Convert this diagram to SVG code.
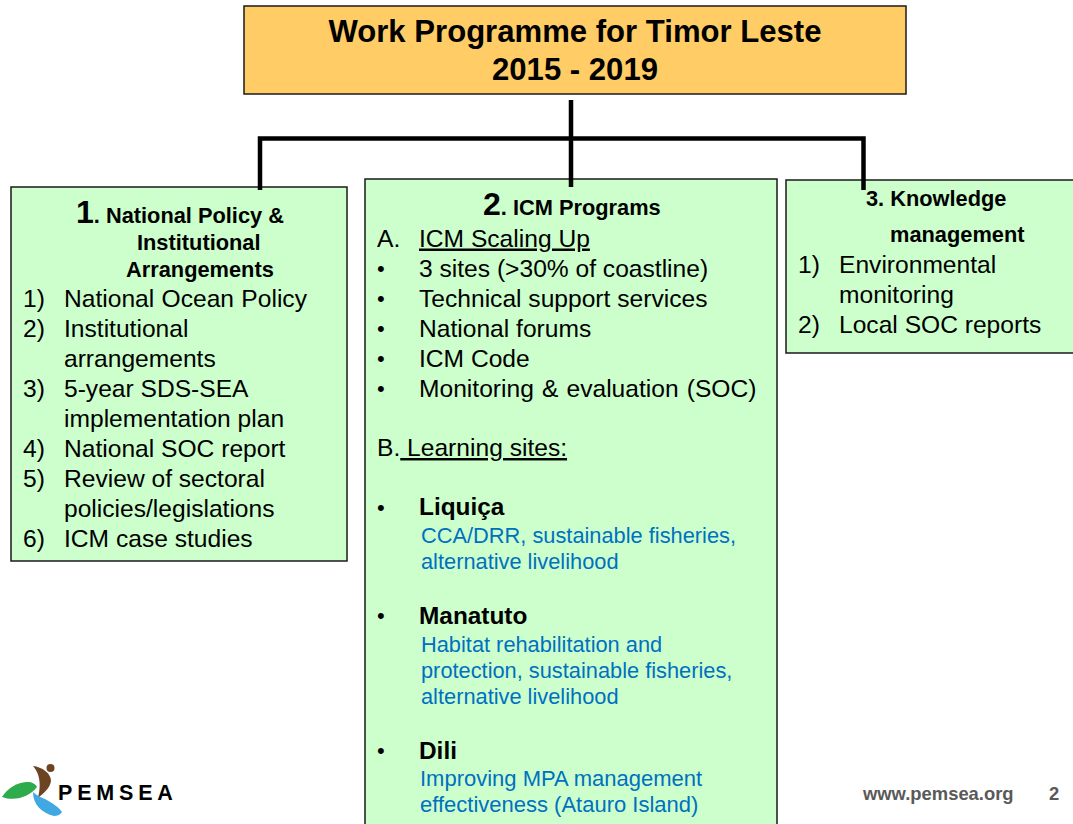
<svg xmlns="http://www.w3.org/2000/svg" width="1073" height="824" viewBox="0 0 1073 824">
<style>
text{font-family:"Liberation Sans",Arial,sans-serif;fill:#000}
.box{fill:#ccffcc;stroke:#1a1a1a;stroke-width:1.5}
.t{font-size:24.600px}
.d{font-size:22px}
.h{font-size:21.800px;font-weight:700}
.n{font-size:32px;font-weight:700}
.bl{font-size:24.400px;font-weight:700}
.c{fill:#0070c0;font-size:21.800px}
.conn{fill:none;stroke:#000;stroke-width:4.500}
.title{font-size:31.100px;font-weight:700;text-anchor:middle}
.foot{font-size:18.400px;font-weight:700;fill:#595959}
</style>
<rect width="1073" height="824" fill="#fff"/>
<g id="node-title"><rect x="244" y="6" width="662" height="88" fill="#ffcc66" stroke="#1a1a1a" stroke-width="1.5"/>
<text class="title" x="575" y="42">Work Programme for Timor Leste</text>
<text class="title" x="575" y="80">2015 - 2019</text></g>
<g id="node-1"><rect class="box" x="11" y="187" width="336" height="374"/>
<text x="76" y="223"><tspan class="n">1</tspan><tspan class="h">. National Policy &amp;</tspan></text>
<text class="h" x="137" y="250">Institutional</text>
<text class="h" x="126" y="277">Arrangements</text>
<text class="t" x="23" y="306.500">1)</text><text class="t" x="64" y="306.500" word-spacing="0.500">National Ocean Policy</text>
<text class="t" x="23" y="336.500">2)</text><text class="t" x="64" y="336.500">Institutional</text>
<text class="t" x="64" y="366.500">arrangements</text>
<text class="t" x="23" y="396.500">3)</text><text class="t" x="64" y="396.500">5-year SDS-SEA</text>
<text class="t" x="64" y="426.500">implementation plan</text>
<text class="t" x="23" y="456.500">4)</text><text class="t" x="64" y="456.500">National SOC report</text>
<text class="t" x="23" y="486.500">5)</text><text class="t" x="64" y="486.500">Review of sectoral</text>
<text class="t" x="64" y="516.500">policies/legislations</text>
<text class="t" x="23" y="546.500">6)</text><text class="t" x="64" y="546.500">ICM case studies</text></g>
<g id="node-2"><path class="box" d="M365 826V179H777V826"/>
<text x="483" y="215"><tspan class="n">2</tspan><tspan class="h">. ICM Programs</tspan></text>
<text class="t" x="377" y="246.500">A.</text><text class="t" x="419" y="246.500" text-decoration="underline">ICM Scaling Up</text>
<text class="d" x="377" y="276">•</text><text class="t" x="419" y="276.500">3 sites (&gt;30% of coastline)</text>
<text class="d" x="377" y="306">•</text><text class="t" x="419" y="306.500">Technical support services</text>
<text class="d" x="377" y="336">•</text><text class="t" x="419" y="336.500">National forums</text>
<text class="d" x="377" y="366">•</text><text class="t" x="419" y="366.500">ICM Code</text>
<text class="d" x="377" y="396">•</text><text class="t" x="419" y="396.500" word-spacing="1.300">Monitoring &amp; evaluation (SOC)</text>
<text class="t" x="377" y="456">B.<tspan text-decoration="underline"> Learning sites:</tspan></text>
<text class="d" x="377" y="515">•</text><text class="bl" x="419" y="515">Liquiça</text>
<text class="c" x="421" y="543">CCA/DRR, sustainable fisheries,</text>
<text class="c" x="421" y="569">alternative livelihood</text>
<text class="d" x="377" y="623">•</text><text class="bl" x="419" y="624">Manatuto</text>
<text class="c" x="421" y="652">Habitat rehabilitation and</text>
<text class="c" x="421" y="678">protection, sustainable fisheries,</text>
<text class="c" x="421" y="704">alternative livelihood</text>
<text class="d" x="377" y="758">•</text><text class="bl" x="419" y="759">Dili</text>
<text class="c" x="420" y="786" style="font-size:22px">Improving MPA management</text>
<text class="c" x="420" y="812" style="font-size:22px">effectiveness (Atauro Island)</text></g>
<g id="node-3"><path class="box" d="M1075 180H786V353H1075"/>
<text class="h" x="866" y="206">3. Knowledge</text>
<text class="h" x="890" y="242">management</text>
<text class="t" x="798" y="272.500">1)</text><text class="t" x="839" y="272.500">Environmental</text>
<text class="t" x="839" y="302.500">monitoring</text>
<text class="t" x="798" y="332.500">2)</text><text class="t" x="839" y="332.500">Local SOC reports</text></g>
<g id="connectors"><path class="conn" d="M571 100V187M260 190V138.500H863.500V190"/></g>
<g id="logo">
<path d="M2 797C8 787 20 781 30 782C34 783 36 785 37 787C30 796 16 802 2 797Z" fill="#2eab4a"/>
<path d="M33 766C42 767 51 773 51 781C50 788 44 793 38 798C40 790 42 776 33 766Z" fill="#6d4423"/>
<circle cx="50.500" cy="768" r="4" fill="#6d4423"/>
<path d="M33 792C37 796 41 797 45 799C52 803 59 807 62 812C60 815 57 816 54 816C42 813 33 805 33 792Z" fill="#41a9e1"/>
<text x="58" y="800" style="font-size:21.500px;font-weight:700;letter-spacing:4.800px">PEMSEA</text>
</g>
<g id="footer"><text class="foot" x="863" y="800">www.pemsea.org</text><text class="foot" x="1049" y="800">2</text></g>
</svg>
